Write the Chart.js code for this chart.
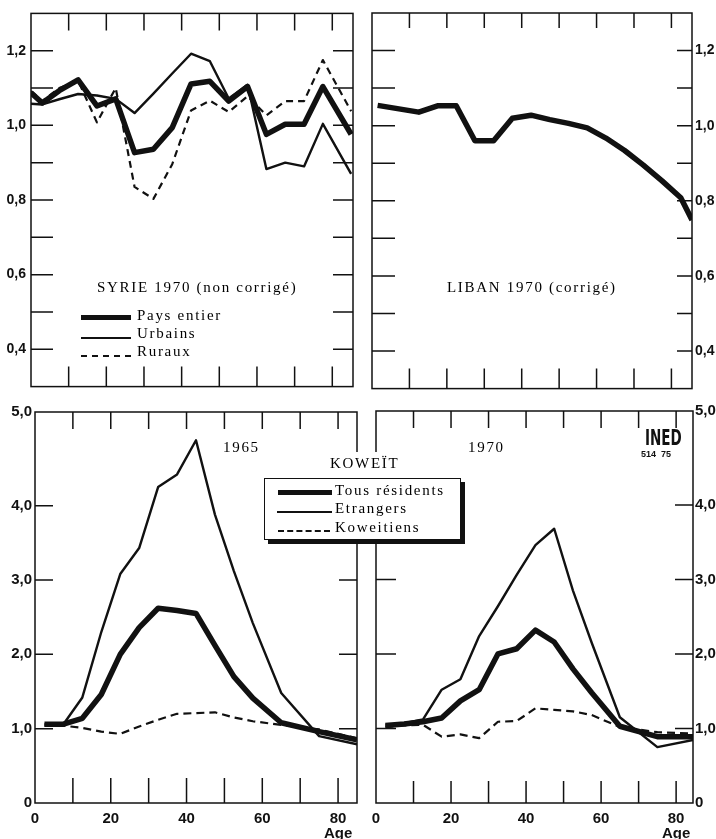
<!DOCTYPE html>
<html><head><meta charset="utf-8">
<script src="https://cdn.jsdelivr.net/npm/chart.js@4.4.0/dist/chart.umd.min.js"></script>
<style>
html,body{margin:0;padding:0;background:#fff;}
body{width:716px;height:839px;position:relative;overflow:hidden;}
canvas{position:absolute;}
.t{position:absolute;font-family:"Liberation Serif","DejaVu Serif",serif;font-size:15px;letter-spacing:1.7px;color:#000;white-space:nowrap;line-height:1;}
.ln{position:absolute;height:0;}
</style></head><body>
<canvas id="cA" width="362" height="400" style="left:0;top:0"></canvas>
<canvas id="cB" width="354" height="400" style="left:362px;top:0"></canvas>
<canvas id="cC" width="362" height="439" style="left:0;top:400px"></canvas>
<canvas id="cD" width="354" height="439" style="left:362px;top:400px"></canvas>

<div class="t" style="left:97px;top:280px">SYRIE 1970 (non corrigé)</div>
<div class="ln" style="left:81px;top:315px;width:50px;border-top:5px solid #111"></div>
<div class="t" style="left:137px;top:308px">Pays entier</div>
<div class="ln" style="left:81px;top:337px;width:50px;border-top:2.5px solid #111"></div>
<div class="t" style="left:137px;top:326px">Urbains</div>
<div class="ln" style="left:81px;top:355px;width:50px;border-top:2px dashed #111"></div>
<div class="t" style="left:137px;top:344px">Ruraux</div>

<div class="t" style="left:447px;top:280px">LIBAN 1970 (corrigé)</div>

<div class="t" style="left:223px;top:440px">1965</div>
<div class="t" style="left:468px;top:440px">1970</div>
<div style="position:absolute;left:322px;top:452px;width:84px;height:28px;background:#fff"></div>
<div class="t" style="left:330px;top:456px">KOWEÏT</div>
<div style="position:absolute;left:264px;top:478px;width:197px;height:62px;box-sizing:border-box;border:1.5px solid #111;background:#fff;box-shadow:4px 4px 0 #111"></div>
<div class="ln" style="left:278px;top:490px;width:54px;border-top:5px solid #111"></div>
<div class="t" style="left:335px;top:483px">Tous résidents</div>
<div class="ln" style="left:277px;top:511px;width:55px;border-top:2.5px solid #111"></div>
<div class="t" style="left:335px;top:501px">Etrangers</div>
<div class="ln" style="left:278px;top:530px;width:52px;border-top:2px dashed #111"></div>
<div class="t" style="left:335px;top:520px">Koweitiens</div>

<div style="position:absolute;left:645px;top:428px;font-family:'Liberation Sans Narrow','DejaVu Sans Condensed',sans-serif;font-weight:bold;font-size:15px;line-height:1;transform:scaleY(1.4);transform-origin:top left;color:#111">INED</div>
<div style="position:absolute;left:641px;top:450px;font-family:'Liberation Sans',sans-serif;font-weight:bold;font-size:9px;line-height:1;color:#111;white-space:nowrap">514&nbsp;&nbsp;75</div>

<script>
// ---------- DATA ----------
const syrieAges = [0, 3, 7.5, 12.5, 17.5, 22.5, 27.5, 32.5, 37.5, 42.5, 47.5, 52.5, 57.5, 62.5, 67.5, 72.5, 77.5, 85];
const syriePaysEntier = [1.087, 1.060, 1.093, 1.122, 1.052, 1.071, 0.927, 0.936, 0.994, 1.111, 1.118, 1.065, 1.104, 0.976, 1.003, 1.003, 1.104, 0.976];
const syrieUrbains    = [1.058, 1.056, 1.070, 1.084, 1.080, 1.071, 1.033, 1.085, 1.139, 1.192, 1.172, 1.072, 1.109, 0.883, 0.900, 0.890, 1.004, 0.870];
const syrieRuraux     = [1.092, 1.065, 1.100, 1.120, 1.008, 1.100, 0.835, 0.803, 0.896, 1.040, 1.066, 1.036, 1.078, 1.027, 1.065, 1.065, 1.175, 1.038];

const libanAges   = [1.5, 12.5, 17.5, 22.5, 27.5, 32.5, 37.5, 42.5, 47.5, 52.5, 57.5, 62.5, 67.5, 72.5, 77.5, 82.5, 85.5];
const libanValues = [1.054, 1.036, 1.053, 1.053, 0.960, 0.960, 1.020, 1.028, 1.016, 1.006, 0.994, 0.967, 0.934, 0.895, 0.853, 0.808, 0.749];

const koweitAges = [2.5, 7.5, 12.5, 17.5, 22.5, 27.5, 32.5, 37.5, 42.5, 47.5, 52.5, 57.5, 65, 75, 85];
const k1965Tous       = [1.06, 1.06, 1.14, 1.46, 2.00, 2.36, 2.62, 2.59, 2.55, 2.12, 1.70, 1.41, 1.08, 0.96, 0.85];
const k1965Etrangers  = [1.06, 1.06, 1.42, 2.30, 3.08, 3.43, 4.25, 4.42, 4.88, 3.88, 3.12, 2.42, 1.48, 0.90, 0.79];
const k1965Koweitiens = [1.04, 1.04, 1.01, 0.96, 0.93, 1.03, 1.12, 1.20, 1.21, 1.22, 1.15, 1.10, 1.05, 0.99, 0.87];
const k1970Tous       = [1.04, 1.06, 1.09, 1.14, 1.37, 1.52, 2.00, 2.07, 2.32, 2.16, 1.80, 1.48, 1.03, 0.89, 0.89];
const k1970Etrangers  = [1.04, 1.07, 1.12, 1.52, 1.66, 2.24, 2.64, 3.06, 3.46, 3.68, 2.85, 2.15, 1.15, 0.75, 0.85];
const k1970Koweitiens = [1.02, 1.04, 1.05, 0.89, 0.92, 0.87, 1.09, 1.10, 1.27, 1.25, 1.23, 1.18, 1.02, 0.95, 0.93];

const topYTickValues = [0.4, 0.6, 0.8, 1.0, 1.2];
const topYMinorTicks = [0.4, 0.5, 0.6, 0.7, 0.8, 0.9, 1.0, 1.1, 1.2];
const bottomYTickValues = [0, 1, 2, 3, 4, 5.26];
const bottomYTickLabels = ['0', '1,0', '2,0', '3,0', '4,0', '5,0'];
const bottomYMinorTicks = [1, 2, 3, 4];
const ageTickValues = [0, 20, 40, 60, 80];
const ageMinorTicks = [10, 20, 30, 40, 50, 60, 70, 80];

// ---------- HELPERS ----------
const INK = '#111';
const pts = (ages, vals) => ages.map((a, i) => ({x: a, y: vals[i]}));
const thick = (label, ages, vals) => ({label, data: pts(ages, vals), borderColor: INK, borderWidth: 5.5, fill: false});
const thin  = (label, ages, vals) => ({label, data: pts(ages, vals), borderColor: INK, borderWidth: 2.4, fill: false});
const dash  = (label, ages, vals, d) => ({label, data: pts(ages, vals), borderColor: INK, borderWidth: 2.2, borderDash: d, fill: false});
const fmt1 = v => v.toFixed(1).replace('.', ',');

const framePlugin = {
  id: 'frame',
  afterDatasetsDraw(chart, args, o) {
    const {ctx, chartArea: a, scales: {x, y}} = chart;
    ctx.save();
    ctx.strokeStyle = INK; ctx.lineWidth = 1.5;
    ctx.strokeRect(a.left, a.top, a.right - a.left, a.bottom - a.top);
    ctx.beginPath();
    (o.xTicks || []).forEach(v => {
      const p = x.getPixelForValue(v);
      ctx.moveTo(p, a.top); ctx.lineTo(p, a.top + o.topLen);
      ctx.moveTo(p, a.bottom); ctx.lineTo(p, a.bottom - o.bottomLen);
    });
    (o.yTicks || []).forEach(v => {
      const p = y.getPixelForValue(v);
      ctx.moveTo(a.left, p); ctx.lineTo(a.left + o.leftLen, p);
      ctx.moveTo(a.right, p); ctx.lineTo(a.right - o.rightLen, p);
    });
    ctx.stroke();
    ctx.restore();
  }
};

function makeChart(id, datasets, cfg) {
  const yOpts = {
    type: 'linear', min: cfg.yMin, max: cfg.yMax, position: cfg.yPos,
    grid: {display: false, drawTicks: false}, border: {display: false},
    afterFit: s => { s.width = cfg.yWidth; },
    afterBuildTicks: s => { s.ticks = cfg.yTicks.map(v => ({value: v})); },
    ticks: {padding: cfg.yPad, color: INK, font: {family: '"Liberation Sans", Arial, sans-serif', weight: 'bold', size: cfg.yFont},
            callback: cfg.yLabel}
  };
  const xOpts = cfg.xLabels ? {
    type: 'linear', min: 0, max: cfg.xMax,
    grid: {display: false, drawTicks: false}, border: {display: false},
    afterFit: s => { s.height = 36; },
    afterBuildTicks: s => { s.ticks = ageTickValues.map(v => ({value: v})); },
    ticks: {padding: 9, color: INK, maxRotation: 0, autoSkip: false,
            font: {family: '"Liberation Sans", Arial, sans-serif', weight: 'bold', size: 15, lineHeight: 0.95},
            callback: v => v === 80 ? ['80', 'Age'] : String(v)}
  } : {type: 'linear', min: 0, max: cfg.xMax, display: false};
  return new Chart(document.getElementById(id), {
    type: 'line',
    data: {datasets},
    options: {
      responsive: false, animation: false, events: [],
      layout: {padding: cfg.pad},
      elements: {point: {radius: 0}, line: {tension: 0, borderJoinStyle: 'round', borderCapStyle: 'butt'}},
      plugins: {legend: {display: false}, tooltip: {enabled: false}, frame: cfg.frame},
      scales: {x: xOpts, y: yOpts}
    },
    plugins: [framePlugin]
  });
}

// Top-left: Syrie
makeChart('cA', [
  dash('Ruraux', syrieAges, syrieRuraux, [7, 5]),
  thin('Urbains', syrieAges, syrieUrbains),
  thick('Pays entier', syrieAges, syriePaysEntier)
], {yMin: 0.3, yMax: 1.3, yPos: 'left', yWidth: 31, yPad: 5, yFont: 14, yTicks: topYTickValues, yLabel: fmt1,
    xMax: 85.5, xLabels: false, pad: {top: 13, right: 9, bottom: 10, left: 0},
    frame: {xTicks: ageMinorTicks, topLen: 17, bottomLen: 20, yTicks: topYMinorTicks, leftLen: 22, rightLen: 20}});

// Top-right: Liban
makeChart('cB', [
  thick('Liban 1970', libanAges, libanValues)
], {yMin: 0.3, yMax: 1.3, yPos: 'right', yWidth: 24, yPad: 3, yFont: 14, yTicks: topYTickValues, yLabel: fmt1,
    xMax: 85.5, xLabels: false, pad: {top: 13, right: 0, bottom: 10, left: 10},
    frame: {xTicks: ageMinorTicks, topLen: 15, bottomLen: 20, yTicks: topYMinorTicks, leftLen: 23, rightLen: 15}});

const kLabel = v => bottomYTickLabels[bottomYTickValues.indexOf(v)];

// Bottom-left: Koweit 1965
makeChart('cC', [
  dash('Koweitiens', koweitAges, k1965Koweitiens, [8, 5]),
  thin('Etrangers', koweitAges, k1965Etrangers),
  thick('Tous résidents', koweitAges, k1965Tous)
], {yMin: 0, yMax: 5.26, yPos: 'left', yWidth: 35, yPad: 3, yFont: 15, yTicks: bottomYTickValues, yLabel: kLabel,
    xMax: 85, xLabels: true, pad: {top: 10, right: 5, bottom: 0, left: 0},
    frame: {xTicks: ageMinorTicks, topLen: 17, bottomLen: 25, yTicks: bottomYMinorTicks, leftLen: 18, rightLen: 18}});

// Bottom-right: Koweit 1970
makeChart('cD', [
  dash('Koweitiens', koweitAges, k1970Koweitiens, [8, 5]),
  thin('Etrangers', koweitAges, k1970Etrangers),
  thick('Tous résidents', koweitAges, k1970Tous)
], {yMin: 0, yMax: 5.26, yPos: 'right', yWidth: 23, yPad: 2, yFont: 15, yTicks: bottomYTickValues, yLabel: kLabel,
    xMax: 84.5, xLabels: true, pad: {top: 10, right: 0, bottom: 0, left: 14},
    frame: {xTicks: ageMinorTicks, topLen: 17, bottomLen: 22, yTicks: bottomYMinorTicks, leftLen: 20, rightLen: 18}});
</script>
</body></html>
